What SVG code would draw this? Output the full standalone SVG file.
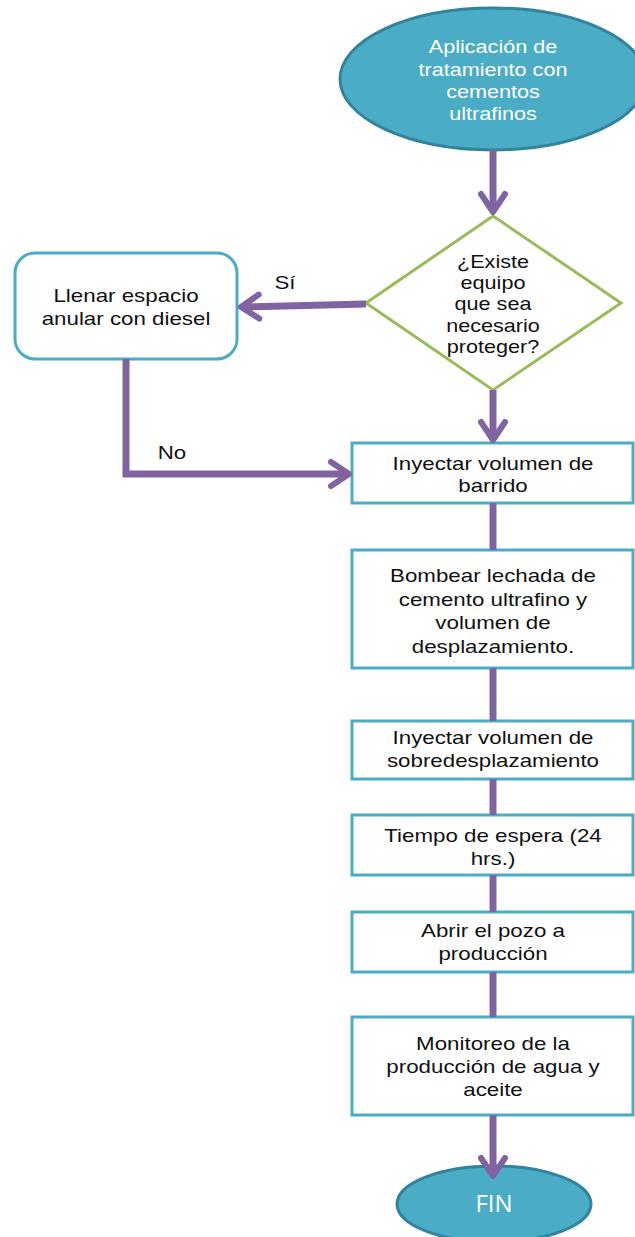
<svg xmlns="http://www.w3.org/2000/svg" width="635" height="1237" viewBox="0 0 635 1237">
<style>
.term{fill:#4BACC6;stroke:#31849B;stroke-width:3}
.box{fill:#fff;stroke:#4BACC6;stroke-width:3}
.dia{fill:#fff;stroke:#9BBB59;stroke-width:3}
.t{font-family:"Liberation Sans",Arial,sans-serif;font-size:18px;fill:#111;text-anchor:middle}
.tw{font-family:"Liberation Sans",Arial,sans-serif;font-size:18px;fill:#fff;text-anchor:middle}
.fin{font-family:"Open Sans","Liberation Sans",sans-serif;font-size:24px;fill:#fff;text-anchor:middle}
.c{fill:none;stroke:#8064A2;stroke-width:7}
.ca{fill:none;stroke:#8064A2;stroke-width:7;marker-end:url(#ah)}
</style>
<defs>
<marker id="ah" markerUnits="userSpaceOnUse" viewBox="-30 -20 40 40" markerWidth="40" markerHeight="40" refX="0" refY="0" orient="auto">
<path d="M-18,-12 L0,0 L-18,12" fill="none" stroke="#8064A2" stroke-width="6" stroke-linecap="round" stroke-linejoin="round"/>
</marker>
</defs>
<g id="start">
<ellipse class="term" cx="493" cy="79" rx="153" ry="71"/>
<text class="tw" transform="translate(493 0) scale(1.2 1)"><tspan x="0" y="53">Aplicación de</tspan><tspan x="0" y="76">tratamiento con</tspan><tspan x="0" y="98">cementos</tspan><tspan x="0" y="120">ultrafinos</tspan></text>
</g>
<g id="decision">
<polygon class="dia" points="493,216 621,303 493,390 366,303"/>
<text class="t" transform="translate(493 0) scale(1.2 1)"><tspan x="0" y="268">¿Existe</tspan><tspan x="0" y="289">equipo</tspan><tspan x="0" y="310">que sea</tspan><tspan x="0" y="332">necesario</tspan><tspan x="0" y="353">proteger?</tspan></text>
</g>
<g id="diesel">
<rect class="box" x="15" y="253" width="222" height="106" rx="20"/>
<text class="t" transform="translate(126 0) scale(1.24 1)"><tspan x="0" y="302">Llenar espacio</tspan><tspan x="0" y="325">anular con diesel</tspan></text>
</g>
<g id="barrido">
<rect class="box" x="352" y="443" width="281" height="60"/>
<text class="t" transform="translate(493 0) scale(1.24 1)"><tspan x="0" y="470">Inyectar volumen de</tspan><tspan x="0" y="492">barrido</tspan></text>
</g>
<g id="bombear">
<rect class="box" x="352" y="550" width="281" height="118"/>
<text class="t" transform="translate(493 0) scale(1.24 1)"><tspan x="0" y="582">Bombear lechada de</tspan><tspan x="0" y="606">cemento ultrafino y</tspan><tspan x="0" y="629">volumen de</tspan><tspan x="0" y="653">desplazamiento.</tspan></text>
</g>
<g id="sobredesplazamiento">
<rect class="box" x="352" y="721" width="281" height="58"/>
<text class="t" transform="translate(493 0) scale(1.24 1)"><tspan x="0" y="744">Inyectar volumen de</tspan><tspan x="0" y="767">sobredesplazamiento</tspan></text>
</g>
<g id="espera">
<rect class="box" x="352" y="815" width="281" height="60"/>
<text class="t" transform="translate(493 0) scale(1.24 1)"><tspan x="0" y="842">Tiempo de espera (24</tspan><tspan x="0" y="865">hrs.)</tspan></text>
</g>
<g id="abrir">
<rect class="box" x="352" y="912" width="281" height="60"/>
<text class="t" transform="translate(493 0) scale(1.24 1)"><tspan x="0" y="937">Abrir el pozo a</tspan><tspan x="0" y="960">producción</tspan></text>
</g>
<g id="monitoreo">
<rect class="box" x="352" y="1017" width="281" height="98"/>
<text class="t" transform="translate(493 0) scale(1.24 1)"><tspan x="0" y="1050">Monitoreo de la</tspan><tspan x="0" y="1073">producción de agua y</tspan><tspan x="0" y="1096">aceite</tspan></text>
</g>
<g id="fin">
<ellipse class="term" cx="494" cy="1204" rx="97" ry="38"/>
<text class="fin" x="494" y="1212">FIN</text>
</g>
<g id="connectors">
<line class="ca" x1="493" y1="150" x2="493" y2="212"/>
<line class="ca" x1="366" y1="304" x2="241" y2="307"/>
<text class="t" transform="translate(285 0) scale(1.24 1)" x="0" y="289">Sí</text>
<line class="ca" x1="493" y1="390" x2="493" y2="440"/>
<path class="ca" d="M126,359 V474 H349"/>
<text class="t" transform="translate(172 0) scale(1.24 1)" x="0" y="459">No</text>
<line class="c" x1="493" y1="503" x2="493" y2="550"/>
<line class="c" x1="493" y1="668" x2="493" y2="721"/>
<line class="c" x1="493" y1="779" x2="493" y2="815"/>
<line class="c" x1="493" y1="875" x2="493" y2="912"/>
<line class="c" x1="493" y1="972" x2="493" y2="1017"/>
<line class="ca" x1="493" y1="1115" x2="493" y2="1176"/>
</g>
</svg>
